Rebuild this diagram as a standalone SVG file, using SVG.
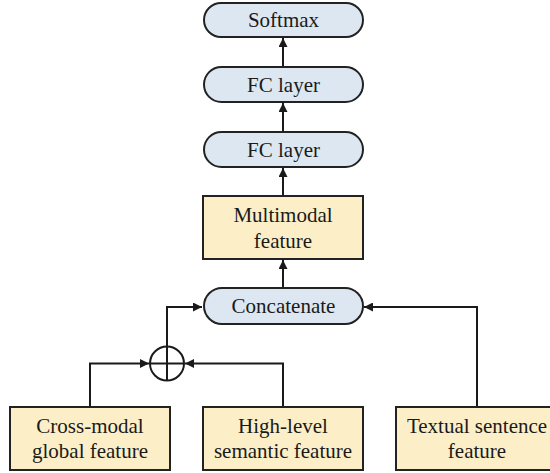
<svg xmlns="http://www.w3.org/2000/svg" width="550" height="473" viewBox="0 0 550 473">
  <style>
    .pill { fill: #dde7f1; stroke: #222; stroke-width: 2; }
    .box { fill: #fcefc8; stroke: #222; stroke-width: 2; }
    .lbl { font-family: "Liberation Serif", "Times New Roman", serif; font-size: 21px; fill: #1a1a1a; text-anchor: middle; }
    .wire { fill: none; stroke: #1a1a1a; stroke-width: 2; }
  </style>
  <defs>
    <marker id="arrow" viewBox="0 0 10 10" refX="10" refY="5" markerWidth="9" markerHeight="9" markerUnits="userSpaceOnUse" orient="auto">
      <path d="M0,0 L10,5 L0,10 z" fill="#1a1a1a"/>
    </marker>
  </defs>

  <rect width="550" height="473" fill="#ffffff"/>

  <!-- connectors -->
  <g id="connectors" class="wire">
    <line x1="283" y1="67" x2="283" y2="38" marker-end="url(#arrow)"/>
    <line x1="283" y1="132" x2="283" y2="103" marker-end="url(#arrow)"/>
    <line x1="283" y1="196" x2="283" y2="168" marker-end="url(#arrow)"/>
    <line x1="283" y1="288" x2="283" y2="260" marker-end="url(#arrow)"/>
    <polyline points="167,346 167,307 202,307" marker-end="url(#arrow)"/>
    <polyline points="477,407 477,307 364,307" marker-end="url(#arrow)"/>
    <polyline points="90,407 90,363.5 149,363.5" marker-end="url(#arrow)"/>
    <polyline points="283,407 283,363.5 185,363.5" marker-end="url(#arrow)"/>
  </g>

  <!-- element-wise sum -->
  <g id="sum">
    <circle cx="167" cy="363.5" r="17" fill="#ffffff" stroke="#1a1a1a" stroke-width="2"/>
    <line x1="167" y1="346.5" x2="167" y2="380.5" stroke="#1a1a1a" stroke-width="2"/>
    <line x1="150" y1="363.5" x2="184" y2="363.5" stroke="#1a1a1a" stroke-width="2"/>
  </g>

  <g id="softmax">
    <rect class="pill" x="204" y="3" width="159" height="34" rx="17"/>
    <text class="lbl" x="283.5" y="27">Softmax</text>
  </g>
  <g id="fc1">
    <rect class="pill" x="204" y="67" width="159" height="35" rx="17.5"/>
    <text class="lbl" x="283.5" y="92">FC layer</text>
  </g>
  <g id="fc2">
    <rect class="pill" x="204" y="132" width="159" height="35" rx="17.5"/>
    <text class="lbl" x="283.5" y="157">FC layer</text>
  </g>
  <g id="multimodal">
    <rect class="box" x="203" y="196" width="160" height="63"/>
    <text class="lbl" x="283" y="222">Multimodal</text>
    <text class="lbl" x="283" y="248">feature</text>
  </g>
  <g id="concatenate">
    <rect class="pill" x="204" y="288" width="159" height="36" rx="18"/>
    <text class="lbl" x="283.5" y="313">Concatenate</text>
  </g>
  <g id="crossmodal">
    <rect class="box" x="10" y="407" width="160" height="63"/>
    <text class="lbl" x="90" y="433">Cross-modal</text>
    <text class="lbl" x="90" y="458">global feature</text>
  </g>
  <g id="highlevel">
    <rect class="box" x="203" y="407" width="160" height="63"/>
    <text class="lbl" x="283" y="433">High-level</text>
    <text class="lbl" x="283" y="458">semantic feature</text>
  </g>
  <g id="textual">
    <rect class="box" x="396" y="407" width="162" height="63"/>
    <text class="lbl" x="477" y="433">Textual sentence</text>
    <text class="lbl" x="477" y="458">feature</text>
  </g>
</svg>
